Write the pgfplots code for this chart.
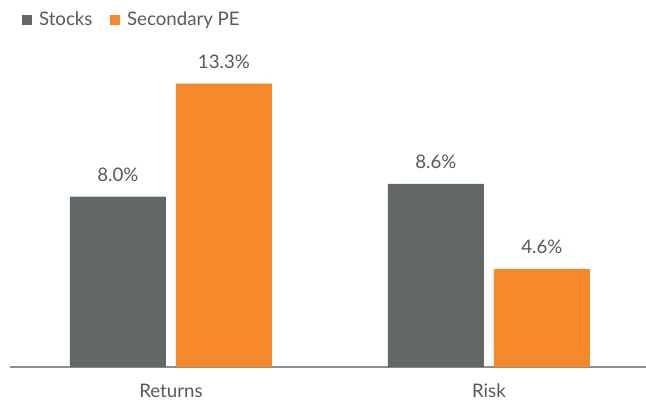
\documentclass[border=0pt]{standalone}
\usepackage{pgfplots}
\pgfplotsset{compat=1.18}
\usepackage{fontspec}
\setmainfont{Lato}
\definecolor{stockgray}{HTML}{616866}
\definecolor{peorange}{HTML}{F5882A}
\definecolor{txtgray}{HTML}{555A5A}
\definecolor{axgray}{HTML}{8A8F8E}

\begin{document}
\begin{tikzpicture}
\begin{axis}[
  at={(0,0)}, anchor=south west,
  width=477pt, height=275.25pt, scale only axis,
  ybar=7.5pt, bar width=72pt,
  xmin=-0.506, xmax=1.494,
  ymin=0, ymax=17.23,
  xtick=data, xticklabels={Returns,Risk},
  major tick length=0pt,
  axis x line=bottom, axis line style={axgray, line width=0.9pt, -},
  axis y line=none,
  /pgf/number format/assume math mode=true,
  x tick label style={font=\fontsize{14}{16}\selectfont, text=txtgray, yshift=-9pt},
  nodes near coords={\pgfmathprintnumber[fixed,precision=1,zerofill]{\pgfplotspointmeta}\%},
  every node near coord/.append style={font=\fontsize{14}{16}\selectfont, text=txtgray, yshift=8pt},
  legend style={at={(rel axis cs:0.018,0.946)}, anchor=west, draw=none, fill=none,
    font=\fontsize{14}{16}\selectfont, text=txtgray,
    legend columns=2, column sep=3.5pt, inner sep=0pt,
    /tikz/every even column/.append style={column sep=11pt}},
  legend image code/.code={\fill[#1] (0pt,-3.75pt) rectangle (7.5pt,3.75pt);},
]
\addplot[fill=stockgray, draw=none] coordinates {(0,8.0) (1,8.6)};
\addlegendentry{Stocks}
\addplot[fill=peorange, draw=none] coordinates {(0,13.3) (1,4.6)};
\addlegendentry{Secondary PE}
\coordinate (sw) at (rel axis cs:0,0);
\coordinate (ne) at (rel axis cs:1,1);
\end{axis}
\pgfresetboundingbox
\useasboundingbox ([xshift=-7.5pt,yshift=-25.5pt]sw) rectangle (ne);
\end{tikzpicture}
\end{document}
